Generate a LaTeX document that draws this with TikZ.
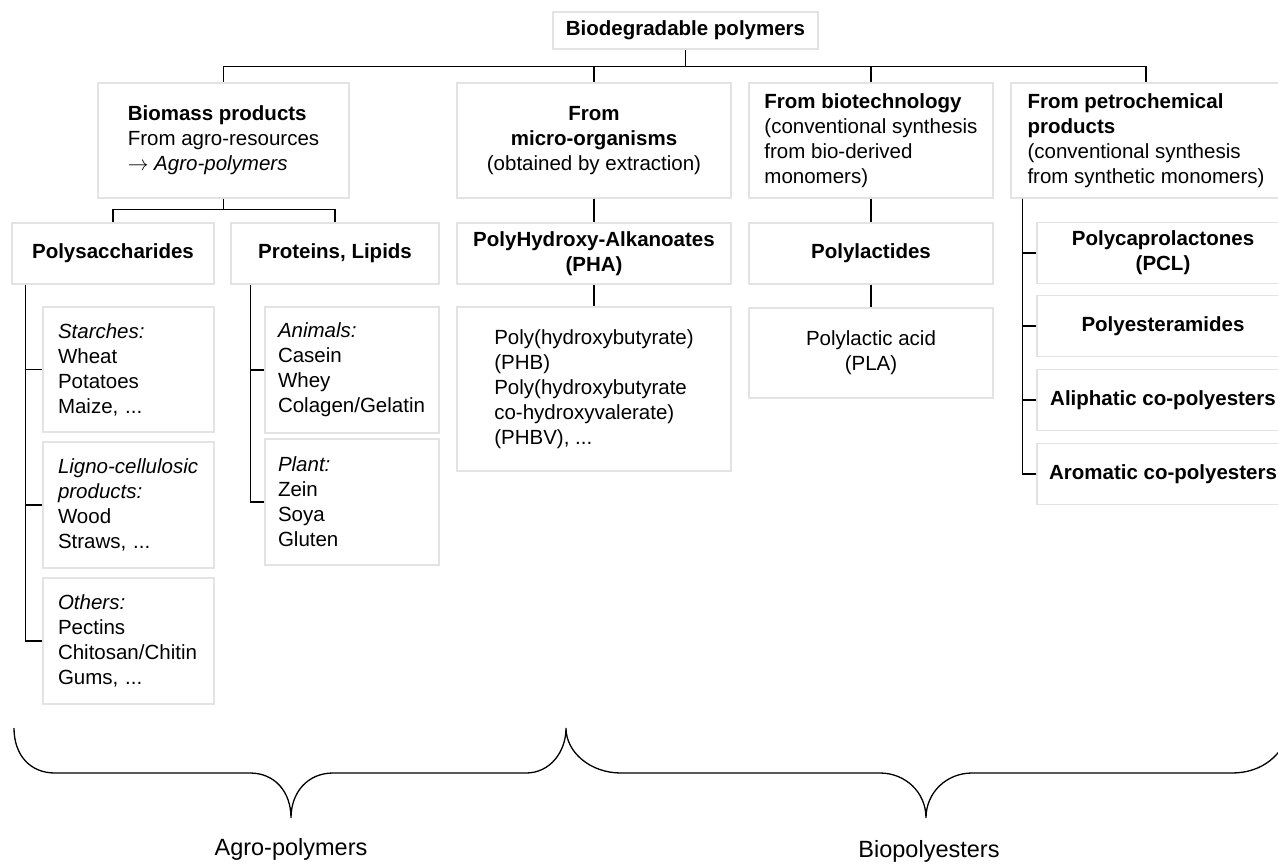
\documentclass[tikz,border=0pt]{standalone}
\usepackage{fontspec}
\setmainfont{Liberation Sans}
\tikzset{
  box/.style={draw=black!11, line width=1.2pt, fill=white, inner sep=0pt,
    font=\fontsize{20.5}{25}\selectfont},
  headbox/.style={box, align=center, font=\fontsize{20.5}{25}\selectfont\bfseries},
  listbox/.style={box, align=left, inner xsep=15pt},
  link/.style={line width=1.3pt},
  bracelabel/.style={font=\fontsize{23.5}{28}\selectfont}
}
\begin{document}
\begin{tikzpicture}[x=1pt,y=-1pt]
  \useasboundingbox (0,0) rectangle (1278,863);
  \node[headbox, minimum width=265pt, minimum height=37pt] (bio) at (685.5,30.5) {Biodegradable polymers};
  \node[box, align=left, minimum width=251pt, minimum height=115pt] (bm) at (223.5,140.5)
    {\textbf{Biomass products}\\From agro-resources\\$\rightarrow$ \textit{Agro-polymers}};
  \node[box, align=center, minimum width=274pt, minimum height=115pt] (micro) at (594,140.5)
    {\textbf{From}\\\textbf{micro-organisms}\\(obtained by extraction)};
  \node[box, align=left, minimum width=244pt, minimum height=115pt] (biotech) at (871,140.5)
    {\textbf{From biotechnology}\\(conventional synthesis\\from bio-derived\\monomers)};
  \node[box, align=left, minimum width=270pt, minimum height=115pt] (petro) at (1146,140.5)
    {\textbf{From petrochemical}\\\textbf{products}\\(conventional synthesis\\from synthetic monomers)};
  \node[headbox, minimum width=202pt, minimum height=61pt] (poly) at (113,253.5) {Polysaccharides};
  \node[headbox, minimum width=208pt, minimum height=61pt] (prot) at (335,253.5) {Proteins, Lipids};
  \node[headbox, minimum width=274pt, minimum height=61pt] (pha) at (594,253.5) {PolyHydroxy-Alkanoates\\(PHA)};
  \node[headbox, minimum width=244pt, minimum height=61pt] (plactides) at (871,253.5) {Polylactides};
  \node[headbox, minimum width=252pt, minimum height=61pt] (pcl) at (1163,253) {Polycaprolactones\\(PCL)};
  \node[headbox, minimum width=252pt, minimum height=61pt] (pea) at (1163,326) {Polyesteramides};
  \node[headbox, minimum width=252pt, minimum height=61pt] (aliph) at (1163,400) {Aliphatic co-polyesters};
  \node[headbox, minimum width=252pt, minimum height=61pt] (arom) at (1163,474) {Aromatic co-polyesters};
  \node[box, align=left, minimum width=274pt, minimum height=164pt] (phb) at (594,389)
    {Poly(hydroxybutyrate)\\(PHB)\\Poly(hydroxybutyrate\\co-hydroxyvalerate)\\(PHBV), ...};
  \node[box, align=center, minimum width=244pt, minimum height=90pt] (pla) at (871,353)
    {Polylactic acid\\(PLA)};
  \node[listbox, text width=141pt, minimum height=125pt] (starch) at (128.5,369.5)
    {\textit{Starches:}\\Wheat\\Potatoes\\Maize, ...};
  \node[listbox, text width=141pt, minimum height=126pt] (ligno) at (128.5,505)
    {\textit{Ligno-cellulosic}\\\textit{products:}\\Wood\\Straws, ...};
  \node[listbox, text width=141pt, minimum height=126pt] (others) at (128.5,641)
    {\textit{Others:}\\Pectins\\Chitosan/Chitin\\Gums, ...};
  \node[listbox, inner xsep=13pt, text width=148pt, minimum height=126pt] (animals) at (352,370)
    {\textit{Animals:}\\Casein\\Whey\\Colagen/Gelatin};
  \node[listbox, inner xsep=13pt, text width=148pt, minimum height=126pt] (plant) at (352,502)
    {\textit{Plant:}\\Zein\\Soya\\Gluten};
  \begin{scope}[link]
    \coordinate (biobar) at ([yshift=-17pt]bio.south);
    \draw (bio.south) -- (biobar);
    \foreach \n in {bm,micro,biotech,petro}
      \draw (biobar) -| (\n.north);
    \coordinate (bmbar) at ([yshift=-11pt]bm.south);
    \draw (bm.south) -- (bmbar);
    \draw (bmbar) -| (poly.north);
    \draw (bmbar) -| (prot.north);
    \draw (micro) -- (pha);
    \draw (pha) -- (phb);
    \draw (biotech) -- (plactides);
    \draw (plactides) -- (pla);
    \foreach \n in {starch,ligno,others}
      \draw ([xshift=14pt]poly.south west) |- (\n);
    \foreach \n in {animals,plant}
      \draw ([xshift=20pt]prot.south west) |- (\n);
    \foreach \n in {pcl,pea,aliph,arom}
      \draw ([xshift=12pt]petro.south west) |- (\n);
    \draw (14,728) .. controls (14,755) and (30,773) .. (55,773) -- (250,773)
      .. controls (275,773) and (291,792) .. (291,818)
      .. controls (291,792) and (308,773) .. (333,773) -- (526,773)
      .. controls (550,773) and (566,752) .. (566,728)
      .. controls (566,752) and (590,773) .. (621,773) -- (880,773)
      .. controls (905,773) and (926,792) .. (926,818)
      .. controls (926,792) and (947,773) .. (972,773) -- (1232,773)
      .. controls (1262,773) and (1284,755) .. (1290,728);
  \end{scope}
  \node[bracelabel] (agro) at (291,849) {Agro-polymers};
  \node[bracelabel] (biopol) at (929,851) {Biopolyesters};
\end{tikzpicture}
\end{document}
